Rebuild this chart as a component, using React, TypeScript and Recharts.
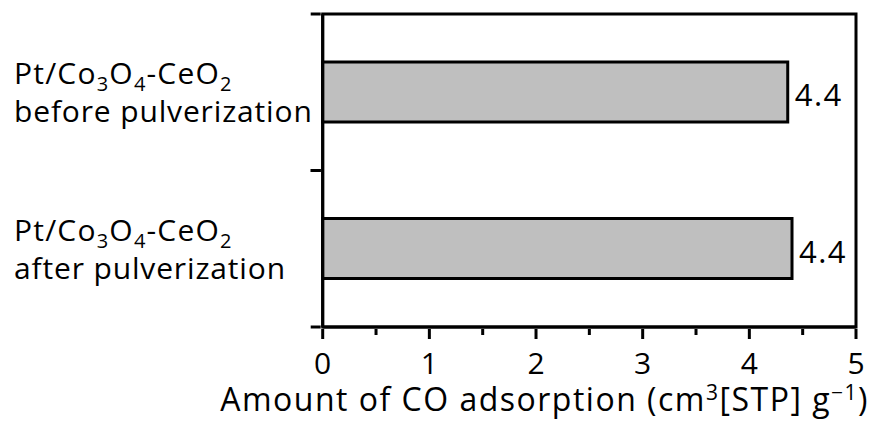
import { BarChart, Bar, XAxis, YAxis, LabelList, ReferenceArea } from 'recharts';

// CO uptake of the catalyst, before and after pulverization
const categories = ['before', 'after'];
const conditionLabels = ['before pulverization', 'after pulverization'];
const coAdsorption = [4.36, 4.4];
const xTicks = [0, 0.5, 1, 1.5, 2, 2.5, 3, 3.5, 4, 4.5, 5];

const FONT = "'Open Sans', sans-serif";
const WIDTH = 872;
const HEIGHT = 423;
const TOP = 14;
const AXIS_H = 96;
const HALF_BAND = (HEIGHT - TOP - AXIS_H) / 4;

const chartData = categories.map((c, i) => ({ name: c, value: coAdsorption[i] }));

function CatalystName({ x, y }: { x: number; y: number }) {
  return (
    <text x={x} y={y} fontSize={30} fontFamily={FONT} letterSpacing={1.2} fill="#000">
      Pt/Co
      <tspan dy={7} fontSize={20}>3</tspan>
      <tspan dy={-7}>O</tspan>
      <tspan dy={7} fontSize={20}>4</tspan>
      <tspan dy={-7}>-CeO</tspan>
      <tspan dy={7} fontSize={20}>2</tspan>
    </text>
  );
}

function CategoryTick(props: any) {
  const { x, y, payload } = props;
  const i = categories.indexOf(payload.value);
  return (
    <g>
      <line x1={x - 10} x2={x} y1={y - HALF_BAND} y2={y - HALF_BAND} stroke="#000" strokeWidth={3} />
      <line x1={x - 10} x2={x} y1={y + HALF_BAND} y2={y + HALF_BAND} stroke="#000" strokeWidth={3} />
      <CatalystName x={14} y={y - 8} />
      <text x={14} y={y + 30} fontSize={30} fontFamily={FONT} letterSpacing={0.85} fill="#000">
        {conditionLabels[i]}
      </text>
    </g>
  );
}

function ValueTick(props: any) {
  const { x, y, payload } = props;
  const major = Number.isInteger(payload.value);
  return (
    <g>
      <line x1={x} x2={x} y1={y} y2={y + (major ? 10 : 6)} stroke="#000" strokeWidth={3} />
      {major && (
        <text x={x} y={y + 45} textAnchor="middle" fontSize={30} fontFamily={FONT} fill="#000">
          {payload.value}
        </text>
      )}
    </g>
  );
}

function AxisTitle(props: any) {
  const { viewBox } = props;
  const right = viewBox.x + viewBox.width + 13;
  return (
    <text x={right} y={viewBox.y + 84} textAnchor="end" fontSize={32} fontFamily={FONT} letterSpacing={1.5} fill="#000">
      Amount of CO adsorption (cm
      <tspan dy={-11} fontSize={21}>3</tspan>
      <tspan dy={11}>[STP] g</tspan>
      <tspan dy={-11} fontSize={21}>−1</tspan>
      <tspan dy={11}>)</tspan>
    </text>
  );
}

export default function App() {
  return (
    <div style={{ position: 'absolute', left: 0, top: 0, background: '#fff' }}>
      <BarChart
        width={WIDTH}
        height={HEIGHT}
        data={chartData}
        layout="vertical"
        margin={{ top: TOP, right: 16, bottom: 0, left: 0 }}
        barCategoryGap="30%"
      >
        <XAxis
          type="number"
          domain={[0, 5]}
          ticks={xTicks}
          interval={0}
          height={AXIS_H}
          tickSize={0}
          tickLine={false}
          axisLine={{ stroke: '#000', strokeWidth: 3 }}
          tick={<ValueTick />}
          label={<AxisTitle />}
        />
        <YAxis
          type="category"
          dataKey="name"
          width={322.7}
          interval={0}
          tickSize={0}
          tickLine={false}
          axisLine={{ stroke: '#000', strokeWidth: 3 }}
          tick={<CategoryTick />}
        />
        <ReferenceArea x1={0} x2={5} fill="none" stroke="#000" strokeWidth={3} ifOverflow="visible" />
        <Bar dataKey="value" fill="#bfbfbf" stroke="#000" strokeWidth={3} barSize={60} isAnimationActive={false}>
          <LabelList
            dataKey="value"
            position="right"
            offset={7}
            formatter={(v: any) => Number(v).toFixed(1)}
            fill="#000"
            fontSize={31}
            fontFamily={FONT}
            letterSpacing={1.5}
            dy={3}
          />
        </Bar>
      </BarChart>
    </div>
  );
}
